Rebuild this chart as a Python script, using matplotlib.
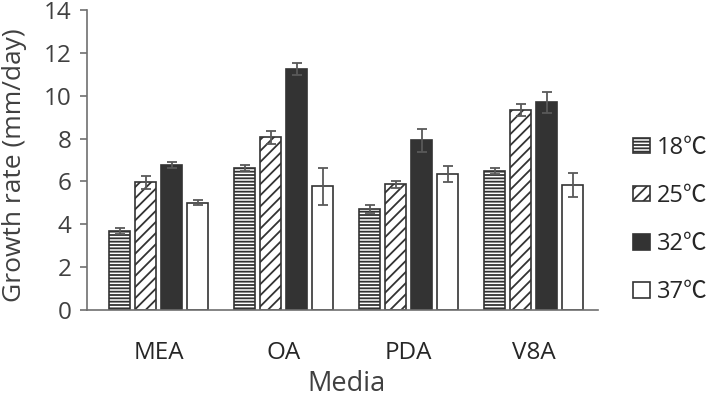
import matplotlib
matplotlib.use("Agg")
import matplotlib.pyplot as plt
import numpy as np

plt.rcParams['font.family'] = ['Open Sans', 'Noto Sans CJK KR', 'DejaVu Sans']
plt.rcParams['hatch.linewidth'] = 1.3

media = ["MEA", "OA", "PDA", "V8A"]
temps = ["18℃", "25℃", "32℃", "37℃"]
rate_18 = [3.69, 6.63, 4.71, 6.50]
rate_25 = [5.96, 8.06, 5.86, 9.32]
rate_32 = [6.78, 11.23, 7.92, 9.69]
rate_37 = [5.01, 5.77, 6.35, 5.82]
err_18 = [0.15, 0.15, 0.17, 0.13]
err_25 = [0.30, 0.30, 0.17, 0.28]
err_32 = [0.14, 0.28, 0.53, 0.48]
err_37 = [0.12, 0.87, 0.37, 0.56]
yticks = [0, 2, 4, 6, 8, 10, 12, 14]

values = [rate_18, rate_25, rate_32, rate_37]
errors = [err_18, err_25, err_32, err_37]
styles = [dict(color="white", hatch="-----"),
          dict(color="white", hatch="///"),
          dict(color="#333333", hatch=None),
          dict(color="white", hatch=None)]

text_c = "#404040"
axis_c = "#6f6f6f"

fig = plt.figure(figsize=(7.09, 4.0), dpi=100)
ax = fig.add_axes([87/709, 90/400, 511/709, 300/400])

x = np.arange(len(media))
step = 0.208
width = 0.164
for i, (vals, errs, st) in enumerate(zip(values, errors, styles)):
    pos = x + (i - 1.5) * step
    ax.bar(pos, vals, width, color=st["color"], hatch=st["hatch"],
           edgecolor="#333333", linewidth=1.2, label=temps[i], zorder=2)
    ax.errorbar(pos, vals, yerr=errs, fmt="none", ecolor="#595959",
                elinewidth=1.3, capsize=3.6, capthick=1.3, zorder=3)

ax.set_xlim(-0.574, 3.516)
ax.set_ylim(0, 14)
ax.set_yticks(yticks)
ax.set_xticks(x)
ax.set_xticklabels(media)
ax.tick_params(axis="x", length=0, pad=22, labelsize=17.5, colors="#262626")
ax.tick_params(axis="y", length=5, width=1.2, color=axis_c, labelsize=17.5,
               labelcolor=text_c, pad=6)
for s in ["top", "right"]:
    ax.spines[s].set_visible(False)
for s in ["left", "bottom"]:
    ax.spines[s].set_color(axis_c)
    ax.spines[s].set_linewidth(1.2)

ax.set_xlabel("Media", fontsize=19.5, color=text_c, labelpad=4)
ax.set_ylabel("Growth rate (mm/day)", fontsize=19, color=text_c)
ax.yaxis.set_label_coords(-0.117, 0.483)
ax.xaxis.label.set_x(0.507)

leg = ax.legend(loc="center left", bbox_to_anchor=(1.068, 0.30), frameon=False,
                fontsize=17, handlelength=0.72, handleheight=0.64,
                handletextpad=0.3, labelspacing=1.02, borderpad=0,
                borderaxespad=0, labelcolor="#262626")

fig.savefig("out.png", dpi=100)
